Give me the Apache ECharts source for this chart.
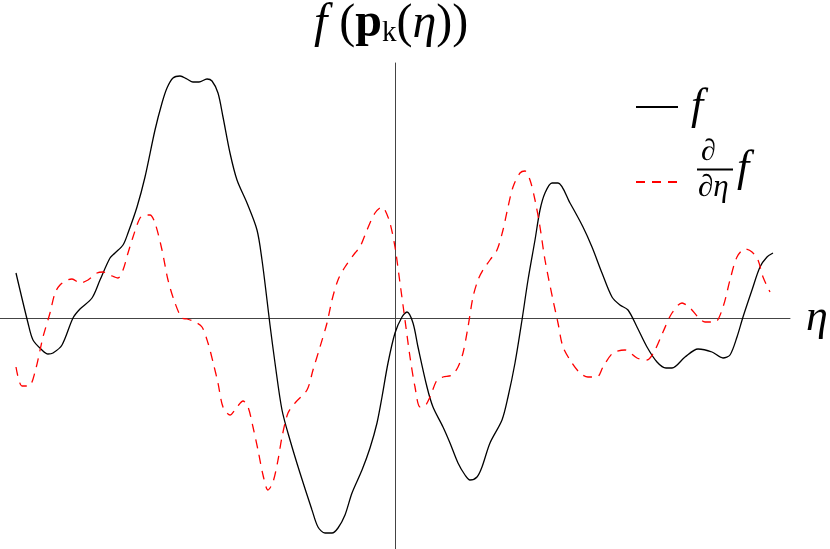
<!DOCTYPE html>
<html>
<head>
<meta charset="utf-8">
<script src="https://cdn.jsdelivr.net/npm/echarts@6/dist/echarts.min.js"></script>
<style>
  html, body { margin: 0; padding: 0; background: #fff; }
  #main { width: 830px; height: 549px; }
</style>
</head>
<body>
<div id="main"></div>
<script>
// eta positions and values
const etaF = [-3.79,-3.67,-3.62,-3.53,-3.47,-3.42,-3.33,-3.22,-3.15,-3.03,-2.95,-2.85,-2.80,-2.72,-2.67,-2.58,-2.50,-2.40,-2.33,-2.28,-2.22,-2.15,-2.08,-2.02,-1.96,-1.88,-1.83,-1.77,-1.72,-1.65,-1.58,-1.48,-1.38,-1.33,-1.28,-1.25,-1.20,-1.13,-1.05,-0.95,-0.83,-0.77,-0.70,-0.63,-0.57,-0.50,-0.43,-0.33,-0.25,-0.18,-0.13,-0.07,0.00,0.07,0.12,0.18,0.23,0.32,0.38,0.48,0.55,0.63,0.70,0.75,0.82,0.87,0.95,1.07,1.13,1.20,1.27,1.33,1.40,1.45,1.50,1.57,1.63,1.75,1.88,1.97,2.07,2.17,2.25,2.33,2.42,2.52,2.62,2.71,2.77,2.90,3.03,3.17,3.28,3.35,3.42,3.48,3.57,3.65,3.72,3.78];
const valF = [0.45,-0.05,-0.22,-0.32,-0.36,-0.35,-0.27,0.00,0.09,0.20,0.38,0.60,0.65,0.73,0.85,1.11,1.41,1.88,2.15,2.30,2.40,2.42,2.39,2.36,2.36,2.39,2.37,2.25,2.01,1.65,1.38,1.15,0.88,0.58,0.18,-0.07,-0.45,-0.92,-1.22,-1.55,-1.92,-2.09,-2.15,-2.15,-2.10,-1.97,-1.75,-1.52,-1.30,-1.05,-0.79,-0.45,-0.15,0.01,0.06,-0.05,-0.29,-0.69,-0.89,-1.09,-1.25,-1.45,-1.57,-1.62,-1.59,-1.49,-1.25,-1.02,-0.79,-0.45,-0.02,0.38,0.78,1.08,1.25,1.35,1.35,1.15,0.91,0.71,0.45,0.21,0.13,0.08,-0.09,-0.29,-0.44,-0.50,-0.50,-0.39,-0.31,-0.34,-0.40,-0.37,-0.19,0.01,0.28,0.51,0.61,0.65];

const etaD = [-3.79,-3.73,-3.66,-3.60,-3.52,-3.45,-3.40,-3.35,-3.28,-3.23,-3.15,-3.07,-2.98,-2.92,-2.85,-2.77,-2.72,-2.67,-2.62,-2.55,-2.50,-2.45,-2.40,-2.33,-2.27,-2.20,-2.13,-2.08,-2.00,-1.93,-1.87,-1.82,-1.77,-1.72,-1.65,-1.58,-1.52,-1.47,-1.42,-1.37,-1.32,-1.27,-1.22,-1.17,-1.13,-1.07,-1.00,-0.88,-0.82,-0.75,-0.68,-0.63,-0.57,-0.50,-0.40,-0.35,-0.28,-0.20,-0.13,-0.10,-0.05,0.00,0.05,0.10,0.15,0.20,0.25,0.30,0.35,0.42,0.48,0.57,0.63,0.68,0.73,0.78,0.83,0.88,0.95,1.02,1.08,1.13,1.18,1.25,1.30,1.35,1.40,1.45,1.50,1.58,1.63,1.68,1.77,1.85,1.93,2.02,2.08,2.18,2.30,2.42,2.52,2.60,2.68,2.77,2.87,2.95,3.03,3.10,3.20,3.28,3.35,3.42,3.50,3.57,3.63,3.68,3.75];
const valD = [-0.49,-0.68,-0.68,-0.54,-0.19,0.05,0.25,0.33,0.38,0.39,0.35,0.38,0.45,0.46,0.43,0.40,0.48,0.65,0.81,1.00,1.03,1.03,0.95,0.68,0.38,0.15,0.00,-0.01,-0.04,-0.09,-0.25,-0.44,-0.65,-0.89,-0.97,-0.89,-0.83,-0.89,-1.09,-1.32,-1.57,-1.72,-1.64,-1.42,-1.19,-0.95,-0.85,-0.72,-0.52,-0.29,-0.05,0.18,0.38,0.51,0.65,0.71,0.88,1.05,1.11,1.08,0.95,0.71,0.35,-0.02,-0.39,-0.69,-0.89,-0.88,-0.79,-0.62,-0.59,-0.57,-0.49,-0.35,-0.09,0.21,0.38,0.48,0.58,0.68,0.88,1.11,1.31,1.45,1.47,1.38,1.18,0.91,0.58,0.18,-0.05,-0.29,-0.45,-0.55,-0.59,-0.59,-0.49,-0.35,-0.32,-0.40,-0.42,-0.32,-0.14,0.05,0.15,0.10,0.01,-0.04,-0.04,0.11,0.38,0.61,0.69,0.66,0.58,0.41,0.26];

const seriesNames = ['f', 'df'];

const serif = 'Liberation Serif';

var chart = echarts.init(document.getElementById('main'));
var option = {
  animation: false,
  backgroundColor: '#fff',
  grid: { left: 0, right: 40, top: 63, bottom: 0 },
  title: {
    text: '{i|f}{n| (}{b|p}{s|k}{n|(}{i|η}{n|))}',
    left: 314,
    top: 0,
    padding: 0,
    textStyle: {
      fontWeight: 'normal',
      rich: {
        i: { fontFamily: serif, fontStyle: 'italic', fontWeight: 'normal', fontSize: 48, color: '#000' },
        n: { fontFamily: serif, fontWeight: 'normal', fontSize: 48, color: '#000' },
        b: { fontFamily: serif, fontWeight: 'bold', fontSize: 48, color: '#000' },
        s: { fontFamily: serif, fontWeight: 'normal', fontSize: 29, color: '#000', verticalAlign: 'bottom', padding: [16, 0, 0, 0] }
      }
    }
  },
  legend: {
    orient: 'vertical',
    left: 635,
    top: 85,
    padding: 0,
    itemWidth: 42,
    itemHeight: 10,
    itemGap: 31,
    data: seriesNames,
    itemStyle: { opacity: 0 },
    formatter: function (name) {
      return name === 'f' ? '{i|f}' : '{i|\u2003}';
    },
    textStyle: {
      padding: [0, 0, 0, 8],
      rich: {
        i: { fontFamily: serif, fontStyle: 'italic', fontSize: 44, lineHeight: 40, color: '#000' }
      }
    }
  },
  xAxis: {
    type: 'value',
    min: -3.95,
    max: 3.95,
    axisLine: { onZero: true, lineStyle: { color: '#444', width: 1 } },
    axisTick: { show: false },
    axisLabel: { show: false },
    splitLine: { show: false }
  },
  yAxis: {
    type: 'value',
    min: -2.31,
    max: 2.55,
    axisLine: { show: true, onZero: true, lineStyle: { color: '#444', width: 1 } },
    axisTick: { show: false },
    axisLabel: { show: false },
    splitLine: { show: false }
  },
  graphic: [
    {
      type: 'text', left: 806, top: 296,
      style: { text: 'η', font: 'italic 44px "Liberation Serif"', fill: '#000' }
    },
    {
      type: 'text', left: 701, top: 137,
      style: { text: '∂', font: 'italic 30px "Liberation Serif"', fill: '#000' }
    },
    {
      type: 'line',
      shape: { x1: 697, y1: 169.5, x2: 733, y2: 169.5 },
      style: { stroke: '#000', lineWidth: 1.8 }
    },
    {
      type: 'text', left: 698, top: 172,
      style: { text: '∂η', font: 'italic 31px "Liberation Serif"', fill: '#000' }
    },
    {
      type: 'text', left: 737, top: 147,
      style: { text: 'f', font: 'italic 44px "Liberation Serif"', fill: '#000' }
    }
  ],
  series: [
    {
      name: seriesNames[0],
      type: 'line',
      data: etaF.map(function (x, i) { return [x, valF[i]]; }),
      symbol: 'none',
      smooth: 0.3,
      lineStyle: { color: '#000', width: 1.3 },
      itemStyle: { color: '#000' }
    },
    {
      name: seriesNames[1],
      type: 'line',
      data: etaD.map(function (x, i) { return [x, valD[i]]; }),
      symbol: 'none',
      smooth: 0.3,
      lineStyle: { color: '#ff0000', width: 1.3, type: [9, 7] },
      itemStyle: { color: '#ff0000' }
    }
  ]
};
option && chart.setOption(option);
</script>
</body>
</html>
